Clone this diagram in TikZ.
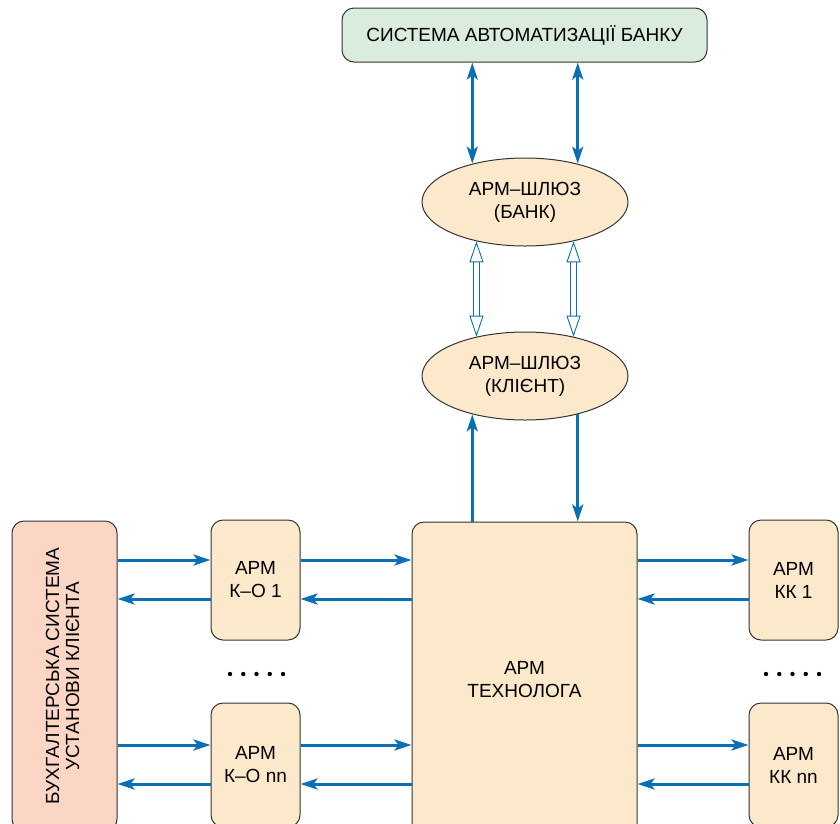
\documentclass[tikz,border=0pt]{standalone}
\usepackage{fontspec}
\setmainfont{Liberation Sans}
\usetikzlibrary{arrows.meta,shapes.geometric}
\definecolor{linkblue}{HTML}{0A6FB5}
\definecolor{armfill}{HTML}{FCE9CB}
\definecolor{bankfill}{HTML}{D9ECDD}
\definecolor{clientfill}{HTML}{FBD6C4}
\tikzset{armbox/.style={draw=black!80,line width=1pt,rounded corners=12pt,fill=armfill,align=center,font=\fontsize{19}{23}\selectfont}}
\tikzset{gateway/.style={ellipse,draw=black!80,line width=1pt,fill=armfill,minimum width=206pt,minimum height=88pt,inner sep=0pt,align=center,font=\fontsize{19}{23}\selectfont}}
\tikzset{link/.style={draw=linkblue,line width=3pt,>={Stealth[length=17pt,width=11pt,inset=4pt]}}}
\tikzset{duplex/.style={draw=linkblue,line width=0.9pt,double=white,double distance=5.5pt,>={Triangle[open,length=21pt,width=14pt]},<->}}

\begin{document}
\begin{tikzpicture}[x=1pt,y=-1pt]
    \useasboundingbox (0,0) rectangle (840,823);
    % bank side
    \node[armbox,fill=bankfill,minimum width=365pt,minimum height=54pt] (bank) at (524.5,35) {СИСТЕМА АВТОМАТИЗАЦІЇ БАНКУ};
    \node[gateway] (gwbank) at (525,202) {АРМ–ШЛЮЗ\\(БАНК)};
    \node[gateway] (gwclient) at (525,376) {АРМ–ШЛЮЗ\\(КЛІЄНТ)};
    % client side
    \node[armbox,minimum width=225pt,minimum height=316pt] (tech) at (524.5,680) {АРМ\\ТЕХНОЛОГА};
    \node[armbox,fill=clientfill,minimum width=105pt,minimum height=310pt] (acc) at (64.5,676)
        {\rotatebox{90}{\begin{tabular}{@{}c@{}}БУХГАЛТЕРСЬКА СИСТЕМА\\[-3pt]УСТАНОВИ КЛІЄНТА\end{tabular}}};
    \node[armbox,minimum width=89pt,minimum height=120pt] (ko1) at (255.5,580) {АРМ\\К–О 1};
    \node[armbox,minimum width=89pt,minimum height=124pt] (kon) at (255.5,765) {АРМ\\К–О nn};
    \node[armbox,minimum width=89pt,minimum height=120pt] (kk1) at (793.5,580) {АРМ\\КК 1};
    \node[armbox,minimum width=89pt,minimum height=124pt] (kkn) at (793.5,765) {АРМ\\КК nn};
    \foreach \i in {0,...,4}
    {
        \fill (230+13.25*\i,674) circle (2.2pt);
        \fill (766+13.25*\i,674) circle (2.2pt);
    }
    % links
    \draw[link,<->] (bank.south -| gwbank.144) -- (gwbank.144);
    \draw[link,<->] (bank.south -| gwbank.36) -- (gwbank.36);
    \draw[duplex] (gwbank.219) -- (gwclient.141);
    \draw[duplex] (gwbank.321) -- (gwclient.39);
    \draw[link,->] (tech.north -| gwclient.216) -- (gwclient.216);
    \draw[link,->] (gwclient.324) -- (tech.north -| gwclient.324);
    \foreach \arm in {ko1,kon}
    {
        \draw[link,->] ([yshift=20pt]\arm.west -| acc.east) -- ([yshift=20pt]\arm.west);
        \draw[link,->] ([yshift=-19pt]\arm.west) -- ([yshift=-19pt]\arm.west -| acc.east);
        \draw[link,->] ([yshift=20pt]\arm.east) -- ([yshift=20pt]\arm.east -| tech.west);
        \draw[link,->] ([yshift=-19pt]\arm.east -| tech.west) -- ([yshift=-19pt]\arm.east);
    }
    \foreach \arm in {kk1,kkn}
    {
        \draw[link,->] ([yshift=20pt]\arm.west -| tech.east) -- ([yshift=20pt]\arm.west);
        \draw[link,->] ([yshift=-19pt]\arm.west) -- ([yshift=-19pt]\arm.west -| tech.east);
    }
\end{tikzpicture}
\end{document}
